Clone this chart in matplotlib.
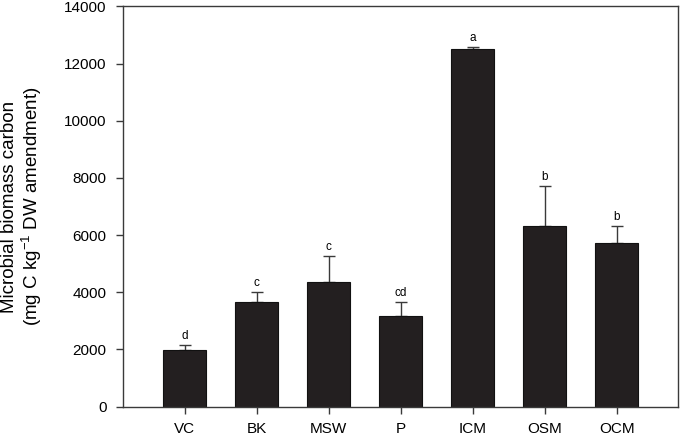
import matplotlib
matplotlib.use("Agg")
import matplotlib.pyplot as plt
import numpy as np

categories = ["VC", "BK", "MSW", "P", "ICM", "OSM", "OCM"]
values = [1980, 3650, 4360, 3170, 12500, 6320, 5720]
errors = [185, 370, 910, 500, 90, 1390, 605]
letters = ["d", "c", "c", "cd", "a", "b", "b"]
yticks = [0, 2000, 4000, 6000, 8000, 10000, 12000, 14000]

plt.rcParams['font.family'] = ['Liberation Sans', 'DejaVu Sans']
plt.rcParams['mathtext.fontset'] = 'custom'
plt.rcParams['mathtext.rm'] = 'Liberation Sans'
plt.rcParams['mathtext.it'] = 'Liberation Sans:italic'

fig = plt.figure(figsize=(6.8, 4.36), dpi=100)
ax = fig.add_axes([123.3/680, 29.5/436, (678-123.3)/680, (406.5-6.5)/436])

x = np.arange(len(categories))
ax.errorbar(x, values, yerr=[np.zeros(len(values)), errors], fmt="none",
            ecolor="#3a3a3a", elinewidth=1.0, capsize=4, capthick=1.0, zorder=1)
ax.bar(x, values, width=0.6, color="#231f20", edgecolor="#111111", linewidth=0.8, zorder=2)
for xi, v, e, l in zip(x, values, errors, letters):
    ax.annotate(l, (xi, v + e), xytext=(0, 2), textcoords="offset points",
                ha="center", va="bottom", fontsize=8.5)

ax.set_xlim(-0.85, 6.85)
ax.set_ylim(0, 14000)
ax.set_yticks(yticks)
ax.set_yticklabels([str(t) for t in yticks])
ax.set_xticks(x)
ax.set_xticklabels(categories)
ax.tick_params(axis="both", direction="out", length=5, width=1, color="#3a3a3a",
               labelsize=11)
ax.tick_params(axis="x", pad=6)
ax.tick_params(axis="y", pad=7)
for s in ax.spines.values():
    s.set_color("#3a3a3a")
    s.set_linewidth(1)

fig.text(22.5/680, 1 - 206.5/436,
         "Microbial biomass carbon\n(mg C kg$^{-1}$ DW amendment)",
         rotation=90, ha="center", va="center", fontsize=13.5,
         multialignment="center", linespacing=1.05)

fig.savefig("out.png", dpi=100)
